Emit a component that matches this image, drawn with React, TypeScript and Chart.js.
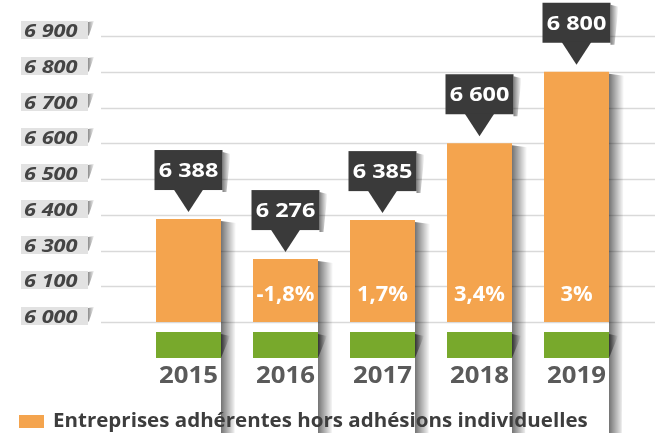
import React, { useEffect, useRef } from "react";
import { Chart, registerables } from "chart.js";

Chart.register(...registerables);

const years = ["2015", "2016", "2017", "2018", "2019"];
const members = [6388, 6276, 6385, 6600, 6800];
const changeLabels = ["", "-1,8%", "1,7%", "3,4%", "3%"];
const yTickValues = [6100, 6200, 6300, 6400, 6500, 6600, 6700, 6800, 6900];
const yTickLabels = ["6 000", "6 100", "6 300", "6 400", "6 500", "6 600", "6 700", "6 800", "6 900"];
const seriesLabel = "Entreprises adhérentes hors adhésions individuelles";

const ORANGE = "#F4A44E";
const GREEN = "#78A92C";
const DARK = "#3A3A3A";
const FONT = "'Open Sans', 'DejaVu Sans', sans-serif";

const fmt = (n: number) => String(n).replace(/\B(?=(\d{3})+(?!\d))/g, " ");

function wideText(
  ctx: CanvasRenderingContext2D,
  str: string,
  x: number,
  y: number,
  sx: number,
  align: CanvasTextAlign
) {
  ctx.save();
  ctx.translate(x, y);
  ctx.scale(sx, 1);
  ctx.textAlign = align;
  ctx.textBaseline = "alphabetic";
  ctx.fillText(str, 0, 0);
  ctx.restore();
}

function wedge(ctx: CanvasRenderingContext2D, x: number, top: number, bottom: number, w: number) {
  const g = ctx.createLinearGradient(x, 0, x + w, 0);
  g.addColorStop(0, "rgba(0,0,0,0.55)");
  g.addColorStop(1, "rgba(0,0,0,0)");
  ctx.fillStyle = g;
  ctx.beginPath();
  ctx.moveTo(x, top + 2);
  ctx.lineTo(x + w, top + 4);
  ctx.lineTo(x, bottom);
  ctx.closePath();
  ctx.fill();
}

const decor = {
  id: "decor",
  beforeDatasetsDraw(chart: any) {
    const ctx: CanvasRenderingContext2D = chart.ctx;
    const y = chart.scales.y;
    ctx.save();
    yTickValues.forEach((v, i) => {
      const gy = Math.round(y.getPixelForValue(v));
      ctx.strokeStyle = "#D9D9D9";
      ctx.lineWidth = 1.5;
      ctx.beginPath();
      ctx.moveTo(101, gy + 0.5);
      ctx.lineTo(655, gy + 0.5);
      ctx.stroke();
      const top = gy - 15;
      ctx.fillStyle = "#E2E2E2";
      ctx.fillRect(21, top, 67, 18);
      const g = ctx.createLinearGradient(88, 0, 94, 0);
      g.addColorStop(0, "rgba(0,0,0,0.45)");
      g.addColorStop(1, "rgba(0,0,0,0.05)");
      ctx.fillStyle = g;
      ctx.beginPath();
      ctx.moveTo(88, top + 1);
      ctx.lineTo(94, top);
      ctx.lineTo(89, top + 14);
      ctx.lineTo(88, top + 15);
      ctx.closePath();
      ctx.fill();
      ctx.fillStyle = "#444444";
      ctx.font = `italic bold 17px ${FONT}`;
      wideText(ctx, yTickLabels[i], 24, gy + 1, 1.28, "left");
    });
    const meta = chart.getDatasetMeta(0);
    meta.data.forEach((bar: any) => {
      const right = bar.x + bar.width / 2;
      wedge(ctx, right, bar.y, bar.base, 15);
    });
    ctx.restore();
  },
  afterDatasetsDraw(chart: any) {
    const ctx: CanvasRenderingContext2D = chart.ctx;
    const yScale = chart.scales.y;
    const bottom = yScale.bottom;
    const meta = chart.getDatasetMeta(0);
    ctx.save();
    meta.data.forEach((bar: any, i: number) => {
      const left = bar.x - bar.width / 2;
      const right = bar.x + bar.width / 2;
      wedge(ctx, right, bottom + 10, bottom + 36, 9);
      ctx.fillStyle = GREEN;
      ctx.fillRect(left, bottom + 10, bar.width, 26);
      ctx.fillStyle = "#5A5A5A";
      ctx.font = `bold 23px ${FONT}`;
      wideText(ctx, years[i], bar.x, bottom + 61, 1.12, "center");
      if (changeLabels[i]) {
        ctx.fillStyle = "#FFFFFF";
        ctx.font = `bold 21px ${FONT}`;
        wideText(ctx, changeLabels[i], bar.x, bottom - 21, 1.04, "center");
      }
      const bw = 68;
      const bTop = bar.y - 69;
      const bBot = bar.y - 29;
      const bl = bar.x - bw / 2;
      const sg = ctx.createLinearGradient(bl + bw, 0, bl + bw + 8, 0);
      sg.addColorStop(0, "rgba(0,0,0,0.5)");
      sg.addColorStop(1, "rgba(0,0,0,0)");
      ctx.fillStyle = sg;
      ctx.beginPath();
      ctx.moveTo(bl + bw, bTop + 2);
      ctx.lineTo(bl + bw + 8, bTop + 4);
      ctx.lineTo(bl + bw + 4, bBot + 2);
      ctx.lineTo(bl + bw, bBot + 2);
      ctx.closePath();
      ctx.fill();
      ctx.fillStyle = DARK;
      ctx.fillRect(bl, bTop, bw, 40);
      ctx.beginPath();
      ctx.moveTo(bar.x - 15, bBot - 1);
      ctx.lineTo(bar.x + 15, bBot - 1);
      ctx.lineTo(bar.x, bar.y - 7);
      ctx.closePath();
      ctx.fill();
      ctx.fillStyle = "#FFFFFF";
      ctx.font = `bold 20px ${FONT}`;
      wideText(ctx, fmt(members[i]), bar.x, bar.y - 42, 1.17, "center");
    });
    ctx.fillStyle = ORANGE;
    ctx.fillRect(19, 415, 25, 13);
    ctx.fillStyle = "#3D3D3D";
    ctx.font = `bold 19px ${FONT}`;
    wideText(ctx, chart.data.datasets[0].label, 53, 427, 1.08, "left");
    ctx.restore();
  },
};

export default function App() {
  const ref = useRef<HTMLCanvasElement>(null);
  useEffect(() => {
    document.body.style.margin = "0";
    const chart = new Chart(ref.current!, {
      type: "bar",
      data: {
        labels: years,
        datasets: [
          {
            label: seriesLabel,
            data: members,
            backgroundColor: ORANGE,
            barPercentage: 0.67,
            categoryPercentage: 1,
          },
        ],
      },
      options: {
        responsive: false,
        animation: false,
        layout: { padding: { left: 140, right: 37, top: 36, bottom: 111 } },
        scales: {
          x: { display: false },
          y: { display: false, min: 6100, max: 6900 },
        },
        plugins: { legend: { display: false }, tooltip: { enabled: false } },
      },
      plugins: [decor],
    });
    return () => chart.destroy();
  }, []);
  return (
    <div style={{ position: "fixed", left: 0, top: 0, width: 662, height: 433, background: "#fff" }}>
      <canvas ref={ref} width={662} height={433} />
    </div>
  );
}
